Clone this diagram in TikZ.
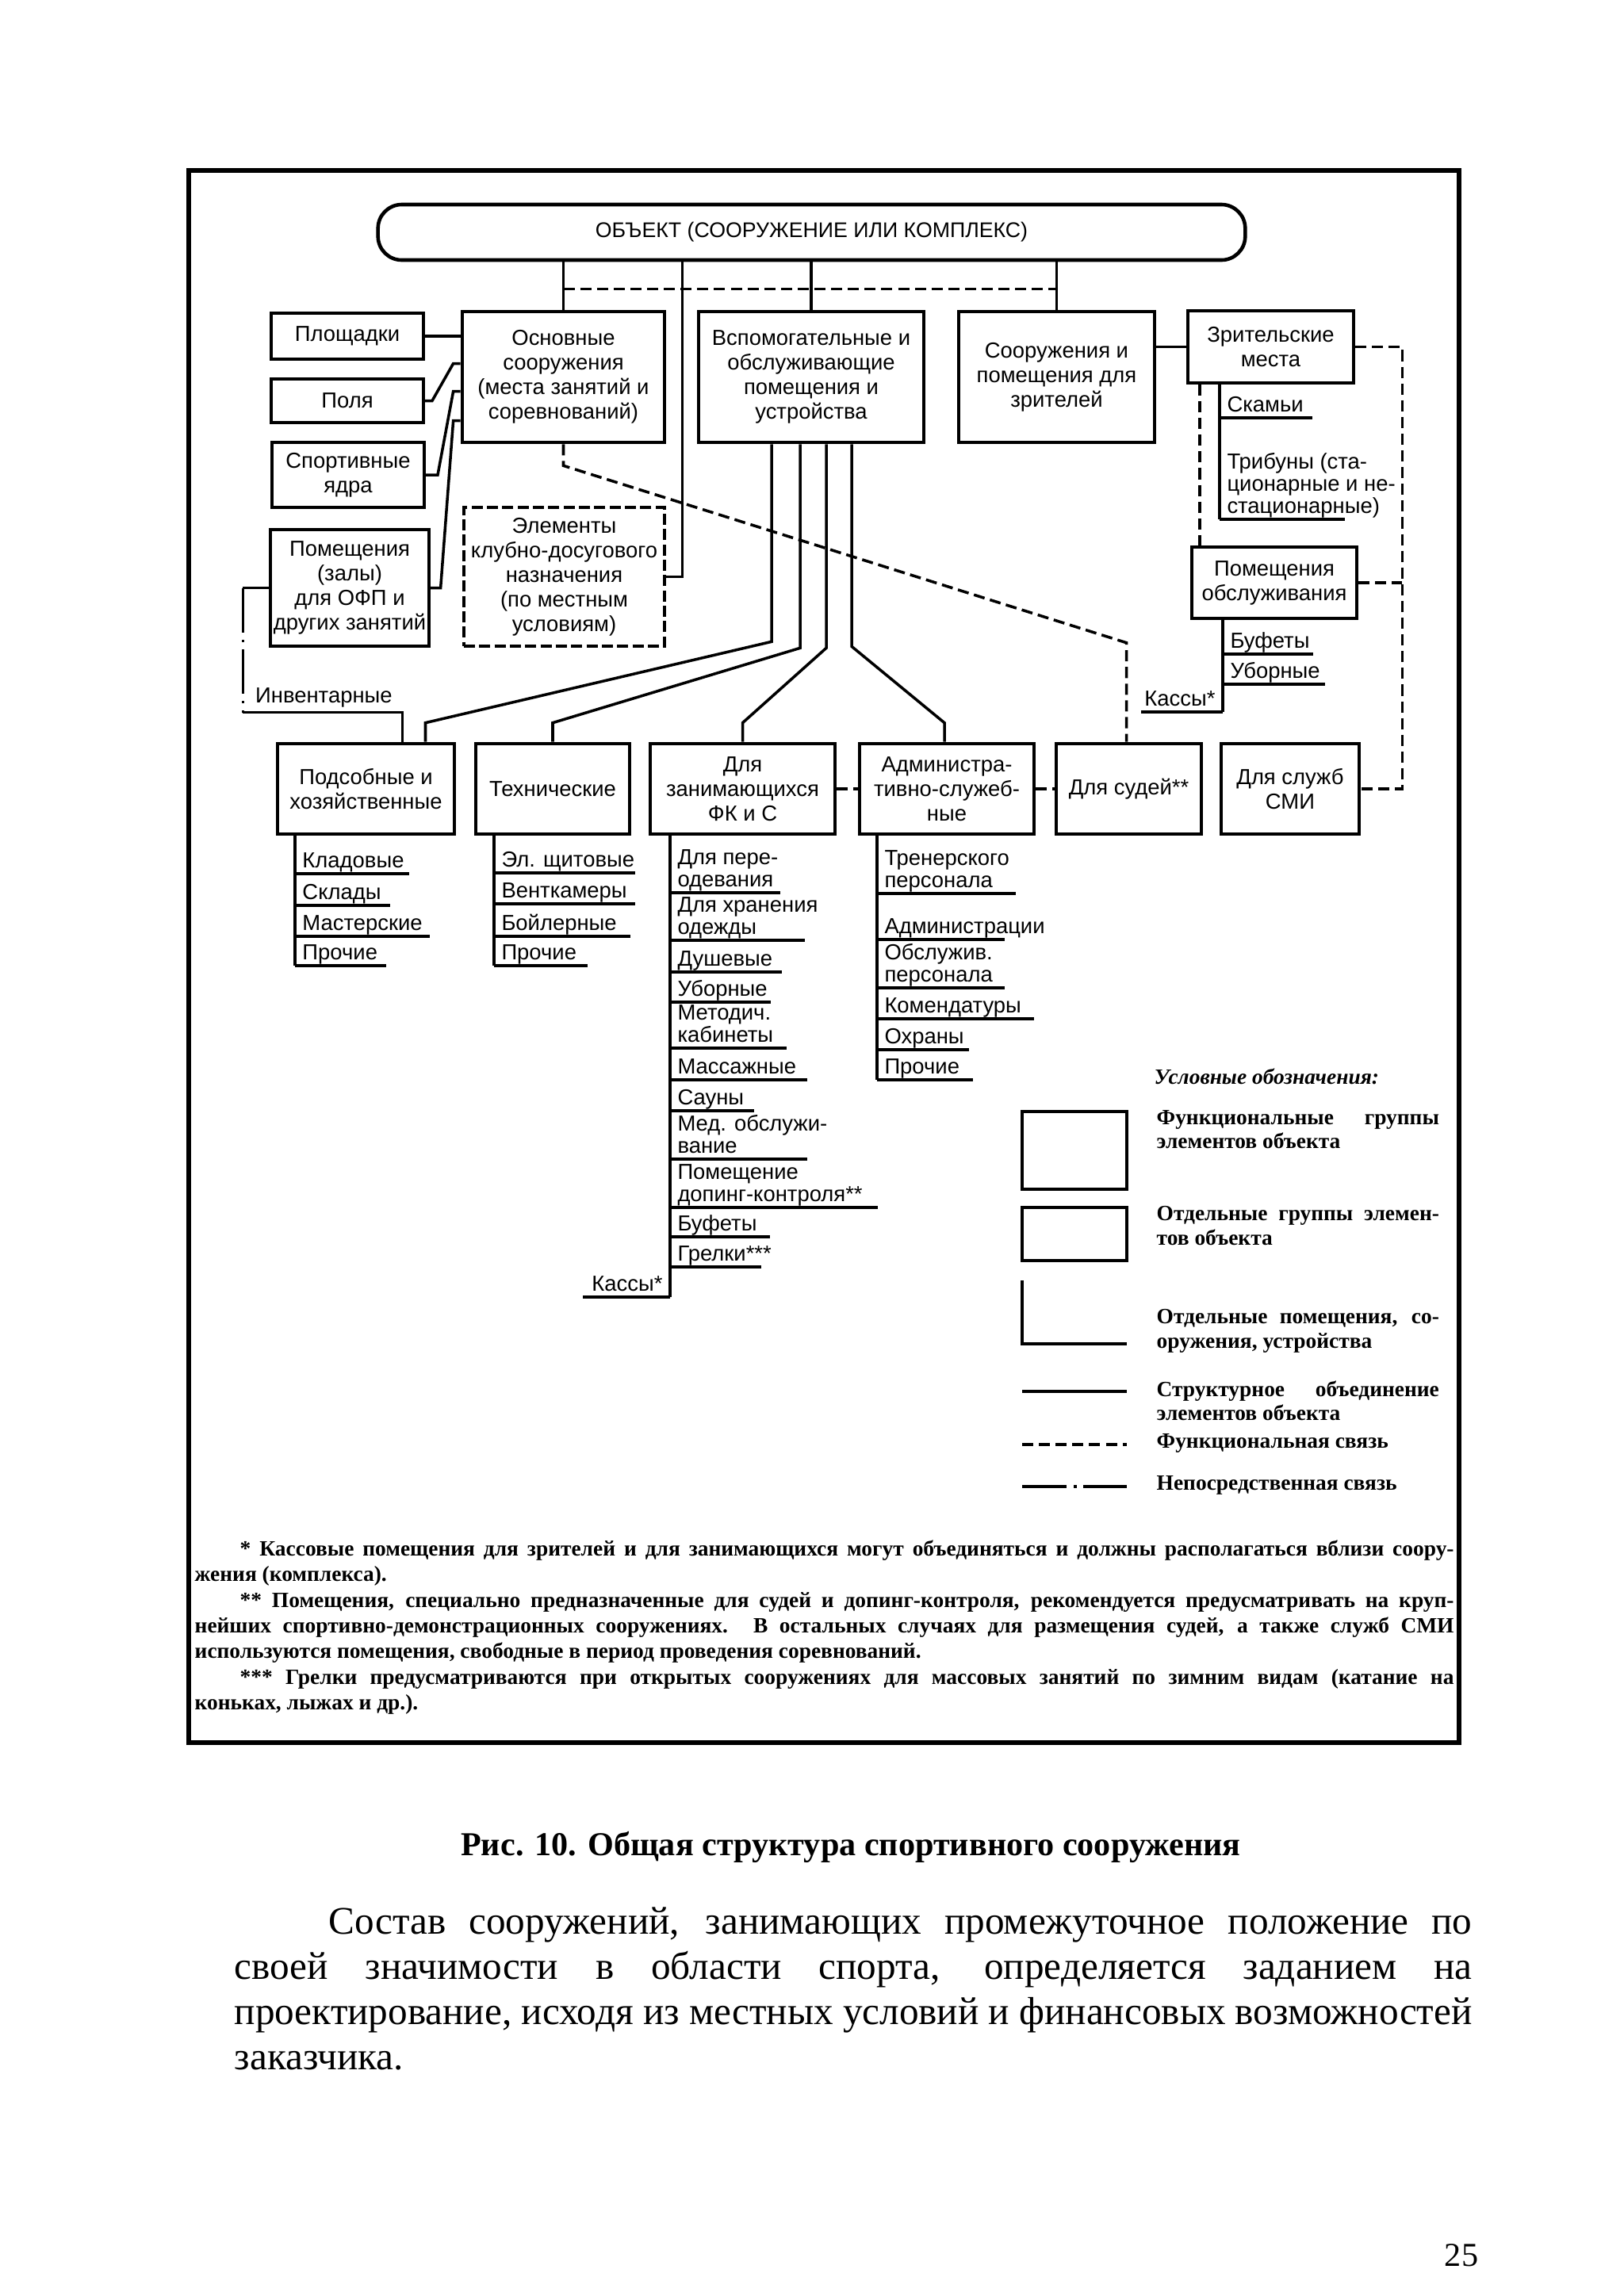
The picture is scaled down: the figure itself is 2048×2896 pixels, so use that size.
\documentclass[tikz,border=0pt]{standalone}
\usepackage{fontspec}
\setmainfont{Liberation Serif}
\newfontfamily\diagfont{Liberation Sans}
\usetikzlibrary{calc,positioning}
\newcommand\dgbox{\diagfont\fontsize{7.8}{8.8}\selectfont}
\newcommand\dglist{\diagfont\fontsize{7.8}{8}\selectfont}
\newcommand\dgtop{\diagfont\fontsize{7.6}{8.6}\selectfont}
\newcommand\dglegend{\bfseries\fontsize{7.8}{8.6}\selectfont}
\newcommand\dgnote{\bfseries\fontsize{7.8}{9.2}\selectfont}

\begin{document}
\begin{tikzpicture}[x=0.01cm,y=-0.01cm,
	grpbox/.style={draw,line width=1.3pt,align=center,font=\dgbox,inner sep=1pt},
	subbox/.style={grpbox,line width=1.1pt},
	listitem/.style={anchor=south west,font=\dglist,align=left,inner xsep=2.5pt,inner ysep=0.3pt,text depth=1.6pt},
	structline/.style={line width=1pt},
	funcline/.style={line width=1pt,dash pattern=on 4pt off 2pt},
	directline/.style={line width=1pt,dash pattern=on 16pt off 2.5pt on 1pt off 2.5pt},
	legtext/.style={anchor=north west,font=\dglegend,text width=3.56cm,align=justify,inner sep=0pt}]
		\useasboundingbox (0,0) rectangle (2048,2896);
		\draw[line width=1.5pt] (238,215) rectangle (1840,2198);

		\node[grpbox,rounded corners=0.3cm,minimum width=10.93cm,minimum height=0.7cm,font=\dgtop] (obj) at (1023.5,293) {ОБЪЕКТ (СООРУЖЕНИЕ ИЛИ КОМПЛЕКС)};
		\node[subbox,minimum width=1.92cm,minimum height=0.58cm] (plosh) at (438,424) {Площадки};
		\node[subbox,minimum width=1.92cm,minimum height=0.55cm] (polya) at (438,505.5) {Поля};
		\node[subbox,minimum width=1.92cm,minimum height=0.82cm] (yadra) at (439,599) {Спортивные\\ядра};
		\node[subbox,minimum width=1.92cm,minimum height=1.47cm] (zaly) at (441,741.5) {Помещения\\(залы)\\для ОФП и\\других занятий};
		\node[grpbox,minimum width=2.55cm,minimum height=1.65cm] (osn) at (710.5,475.5) {Основные\\сооружения\\(места занятий и\\соревнований)};
		\node[grpbox,minimum width=2.84cm,minimum height=1.65cm] (vsp) at (1023,475.5) {Вспомогательные и\\обслуживающие\\помещения и\\устройства};
		\node[grpbox,minimum width=2.47cm,minimum height=1.65cm] (zrit) at (1332.5,475.5) {Сооружения и\\помещения для\\зрителей};
		\node[subbox,minimum width=2.09cm,minimum height=0.91cm] (mesta) at (1602.5,437.5) {Зрительские\\места};
		\node[grpbox,dash pattern=on 4pt off 1.5pt,minimum width=2.53cm,minimum height=1.75cm] (klub) at (711.5,727.5) {Элементы\\клубно-досугового\\назначения\\(по местным\\условиям)};
		\node[subbox,minimum width=2.08cm,minimum height=0.9cm] (obsl) at (1607,735) {Помещения\\обслуживания};

		\node[grpbox,minimum width=2.23cm,minimum height=1.14cm] (podsob) at (461.5,995) {Подсобные и\\хозяйственные};
		\node[grpbox,minimum width=1.94cm,minimum height=1.14cm] (tech) at (697,995) {Технические};
		\node[grpbox,minimum width=2.33cm,minimum height=1.14cm] (zan) at (936.5,995) {Для\\занимающихся\\ФК и С};
		\node[grpbox,minimum width=2.2cm,minimum height=1.14cm] (adm) at (1194,995) {Администра-\\тивно-служеб-\\ные};
		\node[grpbox,minimum width=1.83cm,minimum height=1.14cm] (sud) at (1423.5,995) {Для судей**};
		\node[grpbox,minimum width=1.74cm,minimum height=1.14cm] (smi) at (1627,995) {Для служб\\СМИ};

		\draw[structline] (obj.south -| osn.north) -- (osn.north);
		\draw[structline] (obj.south -| vsp.north) -- (vsp.north);
		\draw[structline] (obj.south -| zrit.north) -- (zrit.north);
		\draw[structline] ($(obj.south)+(-163,0)$) |- (klub.east);
		\draw[funcline] ($(obj.south -| osn.north)+(0,34)$) -- ($(obj.south -| zrit.north)+(0,34)$);
		\draw[structline] (plosh.east) -- (plosh.east -| osn.west);
		\draw[structline] (polya.east) -- ++(9,0) -- ($(osn.west)+(-9,-17)$) -- ++(9,0);
		\draw[structline] (yadra.east) -- ++(15,0) -- ($(osn.west)+(-9,18)$) -- ++(9,0);
		\draw[structline] (zaly.east) -- ++(13,0) -- ($(osn.west)+(-9,55)$) -- ++(9,0);
		\draw[structline] (zrit.east |- mesta.west) -- (mesta.west);
		\coordinate (rbus) at ($(smi.east)+(52,0)$);
		\draw[funcline] (mesta.east) -| (rbus) -- (smi.east);
		\draw[funcline] (obsl.east) -- (obsl.east -| rbus);
		\draw[funcline] ($(mesta.south west)+(17,0)$) coordinate (lbus) -- (lbus |- obsl.north);
		\draw[funcline] (osn.south) -- ++(0,27) -- ($(sud.north)+(-3,-125)$) -- ($(sud.north)+(-3,0)$);
		\draw[structline] ($(vsp.south)+(-50,0)$) -- ++(0,249) -- ($(podsob.north)+(75,-24)$) -- ($(podsob.north)+(75,0)$);
		\draw[structline] ($(vsp.south)+(-14,0)$) -- ++(0,257) -- ($(tech.north)+(0,-24)$) -- (tech.north);
		\draw[structline] ($(vsp.south)+(19,0)$) -- ++(0,257) -- ($(zan.north)+(0,-24)$) -- (zan.north);
		\draw[structline] ($(vsp.south)+(51,0)$) -- ++(0,255) -- ($(adm.north)+(-3,-24)$) -- ($(adm.north)+(-3,0)$);
		\draw[structline] (zaly.west) -- ++(-33,0) coordinate (invtop);
		\coordinate (invknee) at ($(podsob.north)+(46,-37)$);
		\draw[directline] (invtop) -- (invtop |- invknee);
		\draw[structline] (invtop |- invknee) -- (invknee) -- ($(podsob.north)+(46,0)$);
		\node[font=\dgbox,anchor=south west,inner sep=1pt,text depth=2pt] (inv) at (318,898) {Инвентарные};
		\draw[funcline] (zan.east) -- (adm.west);
		\draw[funcline] (adm.east) -- (sud.west);

		\foreach \t/\y/\e [count=\i] in {Скамьи/527/1655,{Трибуны (ста-\\ционарные и не-\\стационарные)}/655/1696}{
			\node[listitem] (ms\i) at (1538,\y) {\t};
			\draw[structline] (ms\i.south west) -- (\e,\y);
		}
		\draw[structline] (ms1.south west |- mesta.south) -- (ms2.south west);
		\foreach \t/\y/\e [count=\i] in {Буфеты/825/1656,Уборные/863/1671}{
			\node[listitem] (os\i) at (1542,\y) {\t};
			\draw[structline] (os\i.south west) -- (\e,\y);
		}
		\node[listitem,anchor=south east] (okassy) at (1542,898) {Кассы*};
		\draw[structline] (okassy.south east) -- (1439,898);
		\draw[structline] (os1.south west |- obsl.south) -- (okassy.south east);

		\foreach \t/\y/\e [count=\i] in {Кладовые/1102/516,Склады/1142/492,Мастерские/1181/542,Прочие/1218/487}{
			\node[listitem] (ps\i) at (372,\y) {\t};
			\draw[structline] (ps\i.south west) -- (\e,\y);
		}
		\draw[structline] (ps1.south west |- podsob.south) -- (ps4.south west);
		\foreach \t/\y/\e [count=\i] in {Эл. щитовые/1101/801,Венткамеры/1140/801,Бойлерные/1181/795,Прочие/1218/741}{
			\node[listitem] (ts\i) at (623,\y) {\t};
			\draw[structline] (ts\i.south west) -- (\e,\y);
		}
		\draw[structline] (ts1.south west |- tech.south) -- (ts4.south west);
		\foreach \t/\y/\e [count=\i] in {{Для пере-\\одевания}/1126/984,{Для хранения\\одежды}/1186/1015,Душевые/1226/986,Уборные/1264/972,{Методич.\\кабинеты}/1322/992,Массажные/1362/1018,Сауны/1401/951,{Мед. обслужи-\\вание}/1462/1018,{Помещение\\допинг-контроля**}/1523/1107,Буфеты/1560/971,Грелки***/1598/960}{
			\node[listitem] (zs\i) at (845,\y) {\t};
			\draw[structline] (zs\i.south west) -- (\e,\y);
		}
		\node[listitem,anchor=south east] (zkassy) at (845,1636) {Кассы*};
		\draw[structline] (zkassy.south east) -- (735,1636);
		\draw[structline] (zs1.south west |- zan.south) -- (zkassy.south east);
		\foreach \t/\y/\e [count=\i] in {{Тренерского\\персонала}/1127/1281,Администрации/1185/1267,{Обслужив.\\персонала}/1246/1267,Комендатуры/1285/1304,Охраны/1324/1222,Прочие/1362/1227}{
			\node[listitem] (as\i) at (1106,\y) {\t};
			\draw[structline] (as\i.south west) -- (\e,\y);
		}
		\draw[structline] (as1.south west |- adm.south) -- (as6.south west);

		\node[font=\dglegend\itshape,anchor=west,inner sep=0pt] (lgtitle) at (1455,1358) {Условные обозначения:};
		\node[grpbox,minimum width=1.32cm,minimum height=0.98cm] (lgfunc) at (1355,1451) {};
		\node[legtext] (lgfunct) at (1458,1400) {Функциональные группы\linebreak элементов объекта};
		\node[subbox,minimum width=1.32cm,minimum height=0.67cm] (lgsub) at (1355,1556.5) {};
		\node[legtext] (lgsubt) at (1458,1521) {Отдельные группы элемен-\linebreak тов объекта};
		\draw[structline,line width=1.2pt] (1289,1615) |- (1421,1695);
		\node[legtext] (lgroomt) at (1458,1651) {Отдельные помещения, со-\linebreak оружения, устройства};
		\draw[structline] (1289,1755) -- (1421,1755);
		\node[legtext] (lgstructt) at (1458,1741) {Структурное объединение\linebreak элементов объекта};
		\draw[funcline] (1289,1822) -- (1421,1822);
		\node[legtext] (lgfunclt) at (1458,1808) {Функциональная связь};
		\draw[directline] (1289,1875) -- (1421,1875);
		\node[legtext] (lgdirt) at (1458,1861) {Непосредственная связь};

		\node[anchor=north west,text width=15.87cm,align=justify,inner sep=0pt,font=\dgnote] (notes) at (245,1942) {\tolerance=10000\hyphenpenalty=10000
			\hspace*{0.57cm}* Кассовые помещения для зрителей и для занимающихся могут объединяться и должны располагаться вблизи соору-\linebreak жения (комплекса).\par
			\hspace*{0.57cm}** Помещения, специально предназначенные для судей и допинг-контроля, рекомендуется предусматривать на круп-\linebreak нейших спортивно-демонстрационных сооружениях. В остальных случаях для размещения судей, а также служб СМИ\linebreak используются помещения, свободные в период проведения соревнований.\par
			\hspace*{0.57cm}*** Грелки предусматриваются при открытых сооружениях для массовых занятий по зимним видам (катание на\linebreak коньках, лыжах и др.).};

		\node[font=\bfseries\fontsize{12}{14}\selectfont] (caption) at (1073,2330) {Рис. 10. Общая структура спортивного сооружения};
		\node[anchor=north west,text width=15.6cm,align=justify,inner sep=0pt,font=\fontsize{14}{16.2}\selectfont] (para) at (295,2405) {\hspace*{1.19cm}Состав сооружений, занимающих промежуточное положение по\linebreak своей значимости в области спорта, определяется заданием на\linebreak проектирование, исходя из местных условий и финансовых возможностей\linebreak заказчика.};
		\node[font=\fontsize{12}{14}\selectfont] (pagenum) at (1843,2845) {25};
	\end{tikzpicture}
\end{document}
